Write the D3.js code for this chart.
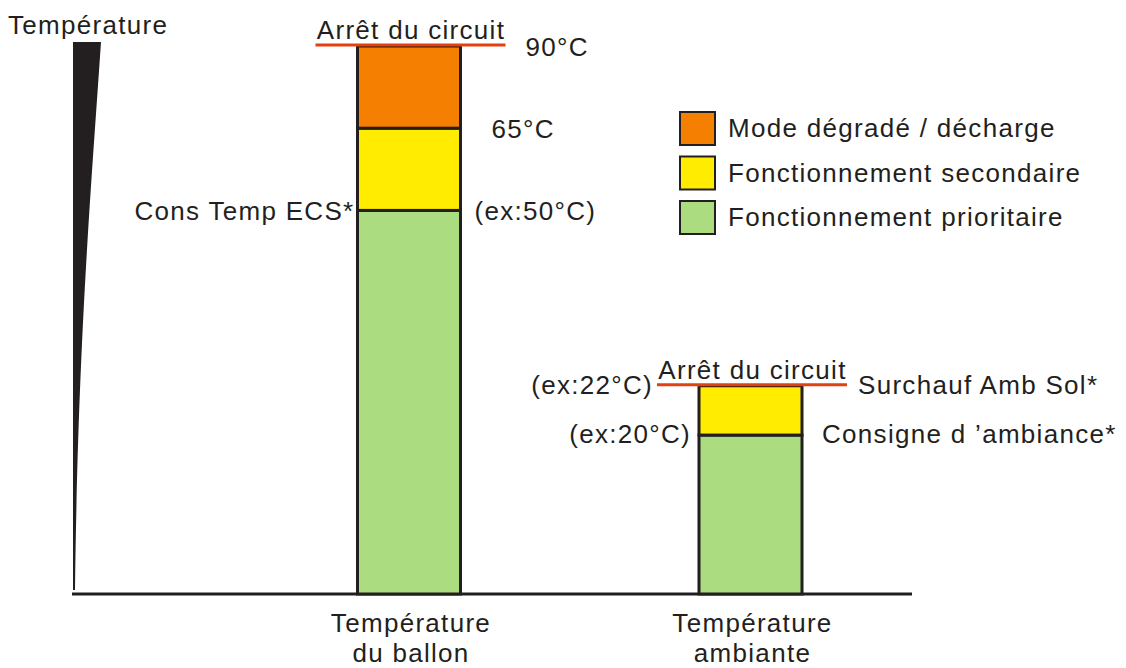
<!DOCTYPE html>
<html>
<head>
<meta charset="utf-8">
<script src="https://cdn.jsdelivr.net/npm/d3@7"></script>
<style>
  body { margin: 0; background: #fff; }
  text { font-family: "Liberation Sans", Arial, sans-serif; font-size: 26px; fill: #231f20; letter-spacing: 1.3px; }
</style>
</head>
<body>
<div id="chart"></div>
<script>
// categories (two bars)
var categories = ["ballon", "ambiante"];
var categoryLines = [["Température", "du ballon"], ["Température", "ambiante"]];

// schematic levels (0 = floor, 100 = top of the ballon bar)
var ballonLevels = [0, 70, 85, 100];
var ambianteLevels = [0, 29, 38];

// zones, bottom to top
var zoneNames = ["Fonctionnement prioritaire", "Fonctionnement secondaire", "Mode dégradé / décharge"];
var zoneColors = ["#acdc80", "#ffec00", "#f47f00"];

// threshold labels
var ballonRight = ["(ex:50°C)", "65°C", "90°C"];
var ballonLeft = ["Cons Temp ECS*"];
var ambianteLeft = ["(ex:20°C)", "(ex:22°C)"];
var ambianteRight = ["Consigne d \u2019ambiance*", "Surchauf Amb Sol*"];
var stopLabel = "Arrêt du circuit";
var yTitle = "Température";

var width = 1126, height = 668;
var ink = "#231f20", red = "#e2400f";

var svg = d3.select("#chart").append("svg")
    .attr("width", width)
    .attr("height", height);

var y = d3.scaleLinear().domain([0, 100]).range([594, 46]);
var x = d3.scalePoint().domain(categories).range([409, 750.5]);
var barW = 103;

// y axis wedge
svg.append("path")
    .attr("d", "M73," + (y(100) - 4) + " L101," + (y(100) - 4) +
      " C91,190 78,340 75," + (y(0) - 4) + " L73," + (y(0) - 4) + " Z")
    .attr("fill", ink);

svg.append("text")
    .attr("x", 8).attr("y", 34)
    .text(yTitle);

// baseline
svg.append("line")
    .attr("x1", 72).attr("x2", 912)
    .attr("y1", y(0)).attr("y2", y(0))
    .attr("stroke", ink).attr("stroke-width", 3);

// build segments for each bar
function segments(levels) {
  return d3.range(levels.length - 1).map(function(k) {
    return {lo: levels[k], hi: levels[k + 1], color: zoneColors[k]};
  });
}
var bars = [
  {cat: "ballon", segs: segments(ballonLevels), top: ballonLevels[ballonLevels.length - 1]},
  {cat: "ambiante", segs: segments(ambianteLevels), top: ambianteLevels[ambianteLevels.length - 1]}
];

bars.forEach(function(b) {
  svg.selectAll(".seg-" + b.cat)
      .data(b.segs)
    .enter().append("rect")
      .attr("class", "seg-" + b.cat)
      .attr("x", x(b.cat) - barW / 2)
      .attr("width", barW)
      .attr("y", function(d) { return y(d.hi); })
      .attr("height", function(d) { return y(d.lo) - y(d.hi); })
      .attr("fill", function(d) { return d.color; })
      .attr("stroke", ink)
      .attr("stroke-width", 3);

  // red stop line + label
  var cx = x(b.cat);
  svg.append("line")
      .attr("x1", cx - barW / 2 - 42).attr("x2", cx + barW / 2 + 45)
      .attr("y1", y(b.top) - 1).attr("y2", y(b.top) - 1)
      .attr("stroke", red).attr("stroke-width", 3);
  svg.append("text")
      .attr("x", cx + 2).attr("y", y(b.top) - 7)
      .attr("text-anchor", "middle")
      .text(stopLabel);
});

// category labels
categories.forEach(function(c, k) {
  svg.append("text")
      .attr("x", x(c) + 2)
      .attr("text-anchor", "middle")
      .selectAll("tspan")
      .data(categoryLines[k])
    .enter().append("tspan")
      .attr("x", x(c) + 2)
      .attr("y", function(d, j) { return 632 + j * 30; })
      .text(function(d) { return d; });
});

// ballon threshold labels
var bx = x("ballon");
var ballonRightDx = [14, 31, 65];
ballonRight.forEach(function(t, k) {
  svg.append("text")
      .attr("x", bx + barW / 2 + ballonRightDx[k])
      .attr("y", y(ballonLevels[k + 1]) + 10)
      .text(t);
});
svg.append("text")
    .attr("x", bx - barW / 2 - 3)
    .attr("y", y(ballonLevels[1]) + 10)
    .attr("text-anchor", "end")
    .text(ballonLeft[0]);

// ambiante threshold labels
var ax = x("ambiante");
var ambLeftDx = [8, 46];
var ambRightDx = [20, 56];
ambianteLeft.forEach(function(t, k) {
  svg.append("text")
      .attr("x", ax - barW / 2 - ambLeftDx[k])
      .attr("y", y(ambianteLevels[k + 1]) + 8)
      .attr("text-anchor", "end")
      .text(t);
});
ambianteRight.forEach(function(t, k) {
  svg.append("text")
      .attr("x", ax + barW / 2 + ambRightDx[k])
      .attr("y", y(ambianteLevels[k + 1]) + 8)
      .text(t);
});

// legend, top to bottom
var legend = svg.selectAll(".legend")
    .data(zoneNames.slice().reverse())
  .enter().append("g")
    .attr("class", "legend")
    .attr("transform", function(d, k) { return "translate(680," + (112 + k * 44.5) + ")"; });
legend.append("rect")
    .attr("width", 35).attr("height", 33)
    .attr("fill", function(d, k) { return zoneColors[zoneColors.length - 1 - k]; })
    .attr("stroke", ink).attr("stroke-width", 2);
legend.append("text")
    .attr("x", 48).attr("y", 25)
    .text(function(d) { return d; });
</script>
</body>
</html>
